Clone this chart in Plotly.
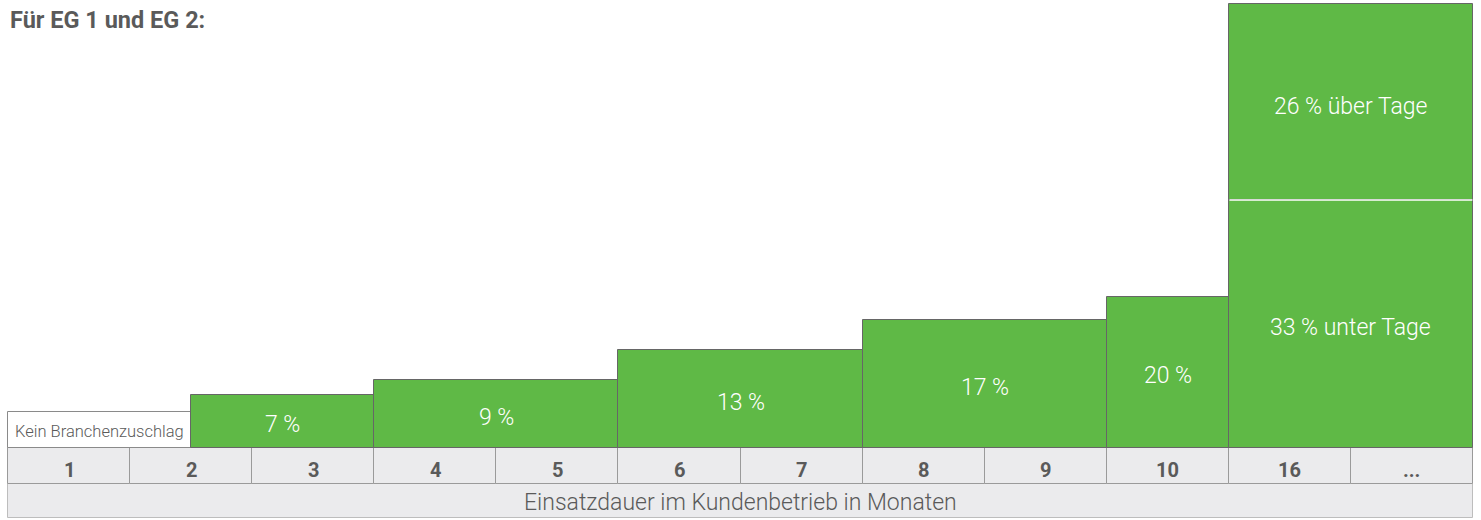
import plotly.graph_objects as go

# ---- data ----
title_text = "Für EG 1 und EG 2:"
months = ["1", "2", "3", "4", "5", "6", "7", "8", "9", "10", "16", "..."]
axis_label = "Einsatzdauer im Kundenbetrieb in Monaten"

step_labels = ["Kein Branchenzuschlag", "7 %", "9 %", "13 %", "17 %", "20 %", "33 % unter Tage"]
step_start = [0, 1.5, 3, 5, 7, 9, 10]      # in month-column units
step_end = [1.5, 3, 5, 7, 9, 10, 12]
step_height = [36, 53, 68, 98, 128, 151, 248]  # schematic heights

upper_label = "26 % über Tage"
upper_height = 196

row_height = 36
label_row_height = 34

# ---- style ----
GREEN = "#5fb946"
DARK = "#5a5a5a"
CELL = "#ebebed"
CELL_LINE = "#9a9a9a"
FONT = "Roboto"

fig = go.Figure()

# label row (bottom)
fig.add_trace(go.Bar(
    x=[len(months) / 2], y=[label_row_height], base=[-row_height - label_row_height],
    width=[len(months)], marker=dict(color=CELL, line=dict(color="#bdbdbd", width=1)),
    hoverinfo="skip", showlegend=False))

# month cells
fig.add_trace(go.Bar(
    x=[i + 0.5 for i in range(len(months))], y=[row_height] * len(months),
    base=[-row_height] * len(months), width=[1] * len(months),
    marker=dict(color=CELL, line=dict(color=CELL_LINE, width=1)),
    hoverinfo="skip", showlegend=False))

# steps
centers = [(s + e) / 2 for s, e in zip(step_start, step_end)]
widths = [e - s for s, e in zip(step_start, step_end)]
fills = ["white"] + [GREEN] * (len(step_labels) - 1)
lines = ["#8a8a8a"] + ["#666666"] * (len(step_labels) - 1)
fig.add_trace(go.Bar(
    x=centers, y=step_height, base=[0] * len(step_height), width=widths,
    marker=dict(color=fills, line=dict(color=lines, width=1)),
    hoverinfo="skip", showlegend=False))

# upper stacked block on last step
fig.add_trace(go.Bar(
    x=[centers[-1]], y=[upper_height], base=[step_height[-1]], width=[widths[-1]],
    marker=dict(color=GREEN, line=dict(color="#666666", width=1)),
    hoverinfo="skip", showlegend=False))

# white separator between the two stacked parts
fig.add_trace(go.Scatter(
    x=[step_start[-1] + 0.005, step_end[-1] - 0.005], y=[step_height[-1], step_height[-1]],
    mode="lines", line=dict(color="white", width=1.5), hoverinfo="skip", showlegend=False))

annotations = []
# step labels
for i, lab in enumerate(step_labels):
    if i == 0:
        annotations.append(dict(
            x=step_start[i], y=step_height[i] / 2, xref="x", yref="y", text=lab,
            showarrow=False, xanchor="left", yanchor="middle", xshift=5, yshift=-1,
            font=dict(family=FONT, size=16.5, color=DARK, weight=300)))
    else:
        annotations.append(dict(
            x=centers[i], y=step_height[i] / 2, xref="x", yref="y", text=lab,
            showarrow=False, xanchor="center", yanchor="middle", yshift=-3,
            font=dict(family=FONT, size=23, color="white", weight=300)))
annotations.append(dict(
    x=centers[-1], y=step_height[-1] + upper_height / 2, xref="x", yref="y", text=upper_label,
    showarrow=False, xanchor="center", yanchor="middle", yshift=-4,
    font=dict(family=FONT, size=23, color="white", weight=300)))

# month labels
for i, m in enumerate(months):
    annotations.append(dict(
        x=i + 0.5, y=-row_height / 2, xref="x", yref="y", text="<b>%s</b>" % m,
        showarrow=False, xanchor="center", yanchor="middle", yshift=-4,
        font=dict(family=FONT, size=20, color=DARK)))

# axis label
annotations.append(dict(
    x=len(months) / 2, y=-row_height - label_row_height / 2, xref="x", yref="y",
    text=axis_label, showarrow=False, xanchor="center", yanchor="middle", yshift=-1,
    font=dict(family=FONT, size=23, color=DARK, weight=300)))

# title
annotations.append(dict(
    x=8 / 1481, y=1 - 20 / 520, xref="paper", yref="paper", text="<b>%s</b>" % title_text,
    showarrow=False, xanchor="left", yanchor="middle",
    font=dict(family=FONT, size=23.5, color=DARK)))

px_per_unit = 1465 / 12
fig.update_layout(
    width=1481, height=520,
    margin=dict(l=0, r=0, t=0, b=0),
    paper_bgcolor="white", plot_bgcolor="white",
    barmode="overlay", bargap=0,
    xaxis=dict(range=[-8 / px_per_unit, 12 + 8 / px_per_unit], visible=False, fixedrange=True),
    yaxis=dict(range=[-72, 448], visible=False, fixedrange=True),
    annotations=annotations,
    showlegend=False,
)

fig.write_html("out.html", config={"displayModeBar": False},
               post_script="document.body.style.margin='0';document.body.style.overflow='hidden';")
